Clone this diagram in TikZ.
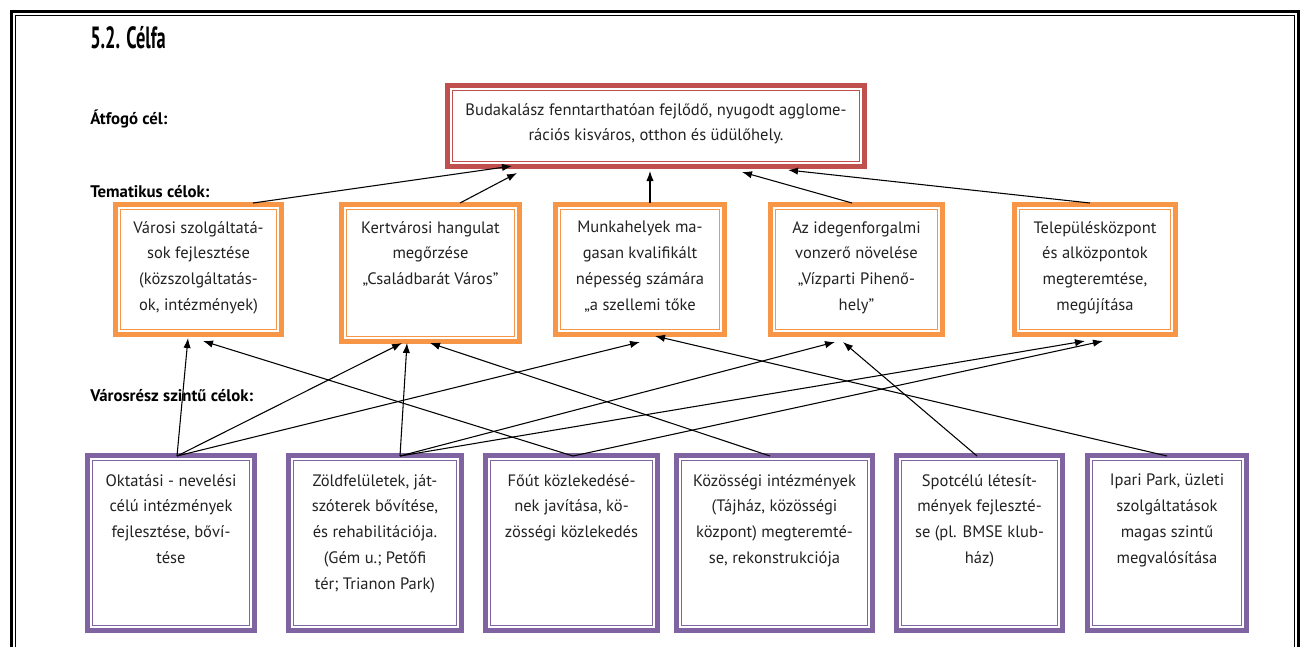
\documentclass[tikz,border=0pt]{standalone}
\usepackage{fontspec}
\setmainfont{PT Sans}
\usetikzlibrary{arrows.meta}
\definecolor{cred}{HTML}{C0504D}
\definecolor{corange}{HTML}{F79646}
\definecolor{cpurple}{HTML}{8064A2}
\definecolor{ctext}{HTML}{222222}
\tikzset{
  lbl/.style={anchor=west, inner sep=0, font=\bfseries\fontsize{12.6}{14}\selectfont},
  txt/.style={anchor=north, align=center, inner sep=0, text=ctext, font=\fontsize{12.4}{19.3}\selectfont},
  arr/.style={-{Latex[length=7.5pt,width=5.5pt]}, line width=0.8pt, black},
  frameline/.style={line width=#1, black},
}
\newcommand\mybox[8]{% name, x1,y1,x2,y2, color, text offset, text
  \draw[line width=3.75pt, draw=#6] (#2+2.5,#3+2.5) rectangle (#4-2.5,#5-2.5);
  \draw[line width=0.75pt, draw=#6] (#2+7.5,#3+7.5) rectangle (#4-7.5,#5-7.5);
  \node[txt] (#1) at ({(#2+#4)/2},#3+#7) {#8};
}
\begin{document}
\begin{tikzpicture}[x=0.75pt,y=-0.75pt]
\useasboundingbox (0,0) rectangle (1306,647);
\fill[white] (0,0) rectangle (1306,647);
% page frame
\draw[frameline=2.6pt] (11.5,647) -- (11.5,11.5) -- (1298.5,11.5) -- (1298.5,647);
\draw[frameline=0.75pt] (15.5,647) -- (15.5,15.5) -- (1294,15.5) -- (1294,647);
% title and labels
\node[anchor=west, inner sep=0] (title) at (90,38) {\scalebox{0.6}[1]{\bfseries\fontsize{23}{26}\selectfont 5.2. Célfa}};
\node[lbl] (lab1) at (90,119) {Átfogó cél:};
\node[lbl] (lab2) at (90,192) {Tematikus célok:};
\node[lbl] (lab3) at (90,396) {Városrész szintű célok:};
% top box
\mybox{top}{445}{83}{867}{169}{cred}{20}{Budakalász fenntarthatóan fejlődő, nyugodt agglome-\\rációs kisváros, otthon és üdülőhely.}
% thematic boxes
\mybox{t1}{113}{202}{284}{337}{corange}{19}{Városi szolgáltatá-\\sok fejlesztése\\(közszolgáltatás-\\ok, intézmények)}
\mybox{t2}{339}{202}{522}{344}{corange}{19}{Kertvárosi hangulat\\megőrzése\\„Családbarát Város”}
\mybox{t3}{553}{202}{727}{337}{corange}{19}{Munkahelyek ma-\\gasan kvalifikált\\népesség számára\\„a szellemi tőke}
\mybox{t4}{768}{202}{945}{337}{corange}{19}{Az idegenforgalmi\\vonzerő növelése\\„Vízparti Pihenő-\\hely”}
\mybox{t5}{1012}{202}{1178}{337}{corange}{19}{Településközpont\\és alközpontok\\megteremtése,\\megújítása}
% district boxes
\mybox{b1}{85}{453}{257}{633}{cpurple}{21}{Oktatási - nevelési\\célú intézmények\\fejlesztése, bőví-\\tése}
\mybox{b2}{286}{453}{464}{633}{cpurple}{21}{Zöldfelületek, ját-\\szóterek bővítése,\\és rehabilitációja.\\(Gém u.; Petőfi\\tér; Trianon Park)}
\mybox{b3}{483}{453}{660}{633}{cpurple}{21}{Főút közlekedésé-\\nek javítása, kö-\\zösségi közlekedés}
\mybox{b4}{674}{453}{875}{633}{cpurple}{21}{Közösségi intézmények\\(Tájház, közösségi\\központ) megteremté-\\se, rekonstrukciója}
\mybox{b5}{894}{453}{1065}{633}{cpurple}{21}{Spotcélú létesít-\\mények fejleszté-\\se (pl. BMSE klub-\\ház)}
\mybox{b6}{1085}{453}{1249}{633}{cpurple}{21}{Ipari Park, üzleti\\szolgáltatások\\magas szintű\\megvalósítása}
% connector points
\coordinate (topA) at (512,166);
\coordinate (topB) at (517,173);
\coordinate (topC) at (650,171);
\coordinate (topD) at (742,172);
\coordinate (topE) at (788,170);
\coordinate (t1up) at (253,203);
\coordinate (t2up) at (460,203);
\coordinate (t3up) at (650,203);
\coordinate (t4up) at (852,203);
\coordinate (t5up) at (1090,203);
\coordinate (t1a) at (188,338);
\coordinate (t1b) at (203,341);
\coordinate (t2a) at (402,343);
\coordinate (t2b) at (407,343);
\coordinate (t2c) at (430,343);
\coordinate (t3a) at (640,342);
\coordinate (t3b) at (655,336);
\coordinate (t4a) at (835,342);
\coordinate (t4b) at (843,342);
\coordinate (t5a) at (1085,341);
\coordinate (t5b) at (1103,341);
\coordinate (b1up) at (177,456);
\coordinate (b2up) at (400,456);
\coordinate (b3up) at (573,456);
\coordinate (b4up) at (770,456);
\coordinate (b5up) at (977,456);
\coordinate (b6up) at (1167,456);
% thematic -> top
\draw[arr] (t1up) -- (topA);
\draw[arr] (t2up) -- (topB);
\draw[arr] (t3up) -- (topC);
\draw[arr] (t4up) -- (topD);
\draw[arr] (t5up) -- (topE);
% district -> thematic
\draw[arr] (b1up) -- (t1a);
\draw[arr] (b1up) -- (t2a);
\draw[arr] (b1up) -- (t3a);
\draw[arr] (b2up) -- (t2b);
\draw[arr] (b2up) -- (t4a);
\draw[arr] (b2up) -- (t5a);
\draw[arr] (b3up) -- (t1b);
\draw[arr] (b3up) -- (t5b);
\draw[arr] (b4up) -- (t2c);
\draw[arr] (b5up) -- (t4b);
\draw[arr] (b6up) -- (t3b);
\end{tikzpicture}
\end{document}
